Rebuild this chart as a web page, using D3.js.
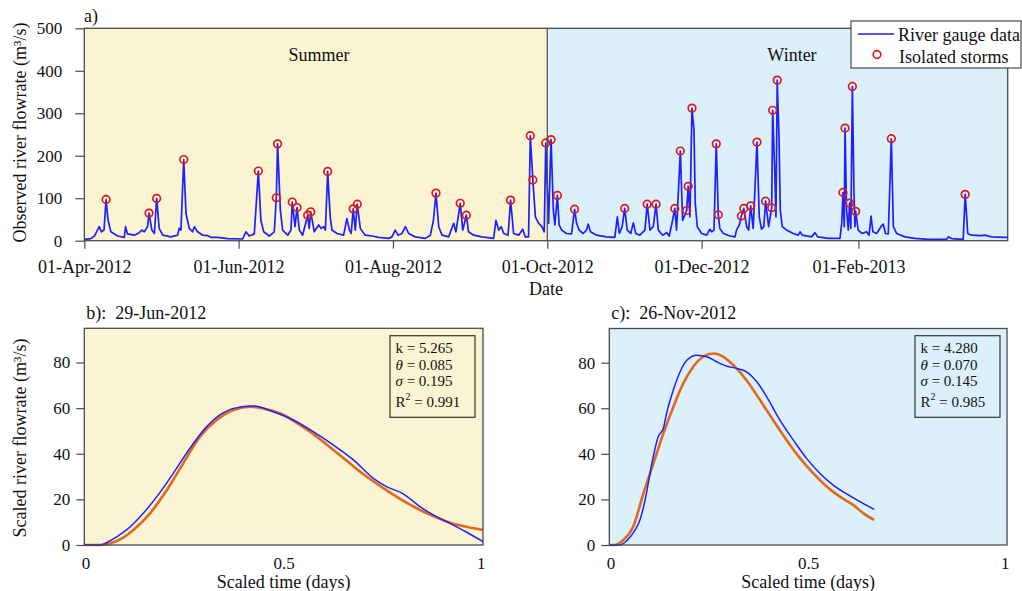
<!DOCTYPE html>
<html>
<head>
<meta charset="utf-8">
<script src="https://cdn.jsdelivr.net/npm/d3@7"></script>
<style>
  html, body { margin: 0; padding: 0; background: #fff; }
  svg { display: block; font-family: "Liberation Serif", "Times New Roman", serif; }
  svg text { font-family: "Liberation Serif", "Times New Roman", serif; }
</style>
</head>
<body>
<svg id="chart" width="1022" height="591"></svg>
<script>
// ---------------- DATA ----------------
// Panel a: river gauge data (day offset from 01-Apr-2012, flowrate m3/s)
const flowDay = [0,2.6,4,5.9,6.8,7.8,8.6,9.4,10.5,13.2,15.8,16.3,17.1,19.8,21.7,22.7,23.7,25,25.6,26.7,27.7,28.6,29.6,31,34.3,36.9,37.5,38.2,39.3,40.2,41.5,42.8,43.5,44.8,46.8,48.7,50,52.7,56.7,62.6,63.9,65.2,67.2,68.8,69.8,70.9,73.1,75.1,75.9,76.4,77.5,78.4,80.4,81.7,82.2,83.3,84.1,85,86.3,88.3,88.9,89.5,90.9,92.6,93.6,94.6,95.3,96.2,97.2,97.9,99.9,102.5,103.8,104.8,105.5,106.3,107.1,107.9,109.1,111,113.7,116.4,120.3,121.6,122.9,124,125.6,126.9,128.2,130.8,134.8,136.8,138,139,140.1,141.4,144,146,146.9,148.6,149.6,151,151.9,153.9,157.2,161.8,162.7,163.8,164.8,165.8,167.5,168.5,169.7,171.7,173.3,174.3,175.6,176.3,177.3,178.3,179.6,180.9,181.8,182.4,183.5,184.5,185.4,186,187,187.7,188.7,190.6,192.6,193.8,194.6,195.6,197.2,198.5,199.2,200.1,202.5,206.4,209.7,210.7,211.5,212.6,213.6,214.6,216,217,218,219.6,221.6,222.5,223.6,224.9,226,226.9,228.6,230.2,231.2,232.3,233.4,234.1,235.6,236.5,238.1,238.7,239.4,240.2,241,241.5,242.3,244,246,247.3,248,248.9,249.8,250.6,251.2,252.6,255.2,257.2,257.8,258.9,259.7,260.7,261.8,262.6,263.4,264.4,265.9,266.8,267.7,268.6,269.3,270.5,271.7,272.1,272.9,273.4,273.9,274.6,275.1,275.9,277.6,280.2,282.2,282.9,283.8,287.5,288.8,289.9,294.1,298.7,299.4,299.9,300.4,300.7,301.3,302,302.5,303,303.6,304.2,304.6,304.9,305.9,307.5,309.2,310.2,311,311.7,313.2,314.9,315.8,316.7,317.8,319,319.8,321.1,324.4,328.3,333.6,340.9,341.5,342.8,347.4,348.2,349.2,350.7,354.7,356,358.6,363.9,365];
const flowQ = [3,5,11,33,21,25,97,48,21,11,8,33,16,13,19,25,21,33,65,25,17,99.5,29,13,9,13,29,25,191,64,29,21,33,21,13,12,8,8,5,4,21,11,16,164,48,21,11,21,101,228,72,25,13,25,91,33,78,25,13,60,29,68,21,37,29,33,25,163,56,25,17,13,52,25,17,75,25,86,29,13,11,8,5.5,9,25,13,17,33,17,9,5.5,13,48,112,33,13,9,41,21,88,25,60,21,13,9,5.5,48,25,33,17,13,95.5,17,13,27,9,9,247,143,56,41,33,21,230,41,238,72,37,106.5,37,25,17,16,74,41,25,17,25,39,21,13,9,8,56,17,33,76,25,17,42,17,13,25,86,25,33,86,25,13,19,11,41,76,25,211,48,71,128,56,312,260,88,33,17,13,27,21,25,228,61,29,17,11,9,25,37,58,76,33,25,82,29,232,56,27,33,93,33,77.5,307,166,56,378,244,72,33,25,17,13,21,13,9,19,9,5.5,5.5,41,113.5,33,265,72,25,88.5,29,363,127,33,69,25,17,21,13,58,21,17,33,39,17,16,240,33,17,9,5.5,3,3,9,5,3,109,17,13,12,13,9,8,8];
// Isolated storms (day offset, flowrate)
const stormDay = [8.6,25.6,28.6,39.3,68.8,75.9,76.4,82.2,84.1,88.3,89.5,96.2,106.3,107.9,139,148.6,151,168.5,176.3,177.3,182.4,184.5,187,193.8,213.6,222.5,226,233.4,235.6,238.1,238.7,240.2,249.8,250.6,259.7,260.7,263.4,265.9,269.3,271.7,272.1,273.9,299.9,300.7,302.5,303.6,304.9,319,348.2];
const stormQ = [97,65,99.5,191,164,101,228,91,78,60,68,163,75,86,112,88,60,95.5,247,143,230,238,106.5,74,76,86,86,76,211,71,128,312,228,61,58,76,82,232,93,77.5,307,378,113.5,265,88.5,363,69,240,109];
const startDate = "2012-04-01";
const endDate = "2013-04-01";
const seasonSplit = "2012-10-01";
const dateTicks = ["2012-04-01","2012-06-01","2012-08-01","2012-10-01","2012-12-01","2013-02-01"];
const flowTicks = [0,100,200,300,400,500];

// Panel b: 29-Jun-2012
const bObsT = [0,0.04,0.065,0.081,0.106,0.14,0.182,0.223,0.265,0.307,0.34,0.374,0.424,0.474,0.524,0.574,0.625,0.675,0.725,0.758,0.8,0.842,0.875,0.917,0.959,1.0];
const bObsQ = [0,0,1.9,3.6,6.6,12.4,21.2,31.4,42.4,51.9,57,59.9,60.9,58.4,54.8,49.7,43.8,37.3,29.2,25.6,22.4,16.8,13.2,9.5,5.6,1.5];
const bFitT = [0,0.039,0.065,0.09,0.123,0.165,0.207,0.248,0.29,0.332,0.374,0.416,0.457,0.5,0.541,0.583,0.625,0.666,0.708,0.75,0.792,0.834,0.875,0.917,0.959,1.0];
const bFitQ = [0,0,0.8,2.5,6.6,13.9,24.1,35.8,47.5,54.8,59.2,60.6,59.5,57,52.6,47.5,41.6,35.8,30,24.9,20.2,16.1,12.7,9.8,8,6.6];
const bParams = ["5.265","0.085","0.195","0.991"];

// Panel c: 26-Nov-2012
const cObsT = [0,0.027,0.044,0.065,0.077,0.09,0.107,0.123,0.136,0.144,0.161,0.178,0.195,0.22,0.245,0.27,0.295,0.32,0.345,0.371,0.396,0.429,0.463,0.496,0.53,0.563,0.597,0.63,0.666];
const cObsQ = [0,0,1.9,6.6,11,19.7,35.8,47.5,51.2,57.7,68,76,81.1,83.3,82.6,80.4,78.5,77.5,76,71.6,65,54.8,46,38,31.4,26.3,22.4,19,15.6];
const cFitT = [0,0.014,0.035,0.06,0.086,0.111,0.136,0.161,0.186,0.211,0.236,0.262,0.287,0.312,0.345,0.379,0.412,0.446,0.48,0.513,0.547,0.58,0.614,0.639,0.666];
const cFitQ = [0,0,2.2,8,22.7,35.8,49,60.6,70.9,78.2,82.6,84,82.6,78.9,72.3,63.6,54.8,46,38,31.4,25.6,21.2,17.5,13.9,11];
const cParams = ["4.280","0.070","0.145","0.985"];

const scaledTicksX = [0,0.5,1];
const scaledTicksY = [0,20,40,60,80];

// ---------------- STYLE ----------------
const SUMMER = "#faf4d2";
const WINTER = "#dbf0fb";
const BLUE = "#1f1fff";
const ORANGE = "#e0691a";
const RED = "#e01818";
const FRAME = "#4a4a4a";
const SERIF = "Liberation Serif";

const svg = d3.select("#chart");
const parse = d3.utcParse("%Y-%m-%d");
const base = parse(startDate);
const toDate = d => new Date(base.getTime() + d * 864e5);

// ---------------- PANEL A ----------------
const A = {l: 84.3, r: 1007.7, t: 28.3, b: 240.7};
const x = d3.scaleUtc().domain([parse(startDate), parse(endDate)]).range([A.l, A.r]);
const y = d3.scaleLinear().domain([0, 500]).range([A.b, A.t]);

svg.append("rect").attr("x", A.l).attr("y", A.t)
  .attr("width", x(parse(seasonSplit)) - A.l).attr("height", A.b - A.t).attr("fill", SUMMER);
svg.append("rect").attr("x", x(parse(seasonSplit))).attr("y", A.t)
  .attr("width", A.r - x(parse(seasonSplit))).attr("height", A.b - A.t).attr("fill", WINTER);

const flow = flowDay.map((d, i) => [toDate(d), flowQ[i]]);
svg.append("path").datum(flow)
  .attr("fill", "none").attr("stroke", BLUE).attr("stroke-width", 1.7).attr("stroke-linejoin", "round")
  .attr("d", d3.line().x(d => x(d[0])).y(d => y(d[1])));

svg.append("g").selectAll("circle").data(stormDay).join("circle")
  .attr("cx", (d) => x(toDate(d))).attr("cy", (d, i) => y(stormQ[i])).attr("r", 3.8)
  .attr("fill", "none").attr("stroke", RED).attr("stroke-width", 1.7);

svg.append("line").attr("x1", x(parse(seasonSplit))).attr("x2", x(parse(seasonSplit)))
  .attr("y1", A.t).attr("y2", A.b).attr("stroke", FRAME).attr("stroke-width", 1.2);
svg.append("rect").attr("x", A.l).attr("y", A.t).attr("width", A.r - A.l).attr("height", A.b - A.t)
  .attr("fill", "none").attr("stroke", FRAME).attr("stroke-width", 1.3);

const fmt = d3.utcFormat("%d-%b-%Y");
const xAxA = svg.append("g").attr("transform", `translate(0,${A.b})`)
  .call(d3.axisBottom(x).tickValues(dateTicks.map(parse)).tickFormat(fmt).tickSizeOuter(0).tickSize(8).tickPadding(11.5));
const yAxA = svg.append("g").attr("transform", `translate(${A.l},0)`)
  .call(d3.axisLeft(y).tickValues(flowTicks).tickSizeOuter(0).tickSize(9).tickPadding(13));
[xAxA, yAxA].forEach(g => {
  g.attr("font-family", SERIF);
  g.select(".domain").remove();
  g.selectAll(".tick line").attr("stroke", FRAME).attr("stroke-width", 1.2);
  g.selectAll("text").attr("fill", "#111").attr("font-family", SERIF);
});
xAxA.attr("font-size", 18);
yAxA.attr("font-size", 17);

svg.append("text").attr("x", 84).attr("y", 22).attr("font-size", 18).attr("fill", "#111").text("a)");
svg.append("text").attr("x", 319).attr("y", 61).attr("text-anchor", "middle").attr("font-size", 18).attr("fill", "#111").text("Summer");
svg.append("text").attr("x", 792).attr("y", 61).attr("text-anchor", "middle").attr("font-size", 18).attr("fill", "#111").text("Winter");
svg.append("text").attr("x", 546).attr("y", 295).attr("text-anchor", "middle").attr("font-size", 18).attr("fill", "#111").text("Date");
svg.append("text").attr("transform", "translate(26,132.5) rotate(-90)").attr("text-anchor", "middle")
  .attr("font-size", 18).attr("fill", "#111").text("Observed river flowrate (m³/s)");

// legend
const lg = svg.append("g");
lg.append("rect").attr("x", 851).attr("y", 21).attr("width", 170).attr("height", 47)
  .attr("fill", "#fff").attr("stroke", FRAME).attr("stroke-width", 1.2);
lg.append("line").attr("x1", 858).attr("x2", 894).attr("y1", 34).attr("y2", 34).attr("stroke", BLUE).attr("stroke-width", 1.7);
lg.append("text").attr("x", 898).attr("y", 40.5).attr("font-size", 18).attr("fill", "#111").text("River gauge data");
lg.append("circle").attr("cx", 877).attr("cy", 54.5).attr("r", 3.8).attr("fill", "#fff").attr("stroke", RED).attr("stroke-width", 1.7);
lg.append("text").attr("x", 899).attr("y", 63).attr("font-size", 18).attr("fill", "#111").text("Isolated storms");

// ---------------- PANELS B & C ----------------
function scaledPanel(P, bg, title, obsT, obsQ, fitT, fitQ, params, box, withYTitle) {
  const sx = d3.scaleLinear().domain([0, 1]).range([P.l, P.r]);
  const sy = d3.scaleLinear().domain([0, 95]).range([P.b, P.t]);
  svg.append("rect").attr("x", P.l).attr("y", P.t).attr("width", P.r - P.l).attr("height", P.b - P.t).attr("fill", bg);
  const line = d3.line().x(d => sx(d[0])).y(d => sy(d[1])).curve(d3.curveMonotoneX);
  svg.append("path").datum(fitT.map((t, i) => [t, fitQ[i]]))
    .attr("fill", "none").attr("stroke", ORANGE).attr("stroke-width", 2.6).attr("d", line);
  svg.append("path").datum(obsT.map((t, i) => [t, obsQ[i]]))
    .attr("fill", "none").attr("stroke", BLUE).attr("stroke-width", 1.5).attr("d", line);
  svg.append("rect").attr("x", P.l).attr("y", P.t).attr("width", P.r - P.l).attr("height", P.b - P.t)
    .attr("fill", "none").attr("stroke", FRAME).attr("stroke-width", 1.3);

  const gx = svg.append("g").attr("transform", `translate(0,${P.b})`)
    .call(d3.axisBottom(sx).tickValues(scaledTicksX).tickFormat(d3.format("")).tickSize(0).tickPadding(12));
  const gy = svg.append("g").attr("transform", `translate(${P.l},0)`)
    .call(d3.axisLeft(sy).tickValues(scaledTicksY).tickSizeOuter(0).tickSize(8).tickPadding(6));
  [gx, gy].forEach(g => {
    g.attr("font-family", SERIF).attr("font-size", 17);
    g.select(".domain").remove();
    g.selectAll(".tick line").attr("stroke", FRAME).attr("stroke-width", 1.2);
    g.selectAll("text").attr("fill", "#111").attr("font-family", SERIF);
  });
  gx.selectAll(".tick text").attr("text-anchor", (d) => d === 0 ? "start" : (d === 1 ? "end" : "middle"))
    .attr("dx", (d) => d === 0 ? "-3" : (d === 1 ? "2" : "0"));

  svg.append("text").attr("x", P.l + 2).attr("y", 319).attr("font-size", 18).attr("fill", "#111")
    .attr("xml:space", "preserve").text(title);
  svg.append("text").attr("x", (P.l + P.r) / 2).attr("y", 588).attr("text-anchor", "middle")
    .attr("font-size", 18).attr("fill", "#111").text("Scaled time (days)");
  if (withYTitle) {
    svg.append("text").attr("transform", "translate(26,438) rotate(-90)").attr("text-anchor", "middle")
      .attr("font-size", 18).attr("fill", "#111").text("Scaled river flowrate (m³/s)");
  }

  svg.append("rect").attr("x", box.x).attr("y", 335.7).attr("width", 85).attr("height", 81.6)
    .attr("fill", "none").attr("stroke", "#333").attr("stroke-width", 1.2);
  const tx = box.x + 5.5;
  const fs = 15;
  const t1 = svg.append("text").attr("x", tx).attr("y", 352.7).attr("font-size", fs).attr("fill", "#111");
  t1.text("k = " + params[0]);
  const t2 = svg.append("text").attr("x", tx).attr("y", 369.5).attr("font-size", fs).attr("fill", "#111");
  t2.append("tspan").attr("font-style", "italic").text("θ");
  t2.append("tspan").text(" = " + params[1]);
  const t3 = svg.append("text").attr("x", tx).attr("y", 386.3).attr("font-size", fs).attr("fill", "#111");
  t3.append("tspan").attr("font-style", "italic").text("σ");
  t3.append("tspan").text(" = " + params[2]);
  const t4 = svg.append("text").attr("x", tx).attr("y", 407).attr("font-size", fs).attr("fill", "#111");
  t4.append("tspan").text("R");
  t4.append("tspan").attr("font-size", 10).attr("dy", -7).text("2");
  t4.append("tspan").attr("dy", 7).text(" = " + params[3]);
}

scaledPanel({l: 84.3, r: 483, t: 328.3, b: 545}, SUMMER, "b):  29-Jun-2012",
  bObsT, bObsQ, bFitT, bFitQ, bParams, {x: 390}, true);
scaledPanel({l: 609.3, r: 1007, t: 328.5, b: 545}, WINTER, "c):  26-Nov-2012",
  cObsT, cObsQ, cFitT, cFitQ, cParams, {x: 915}, false);
</script>
</body>
</html>
